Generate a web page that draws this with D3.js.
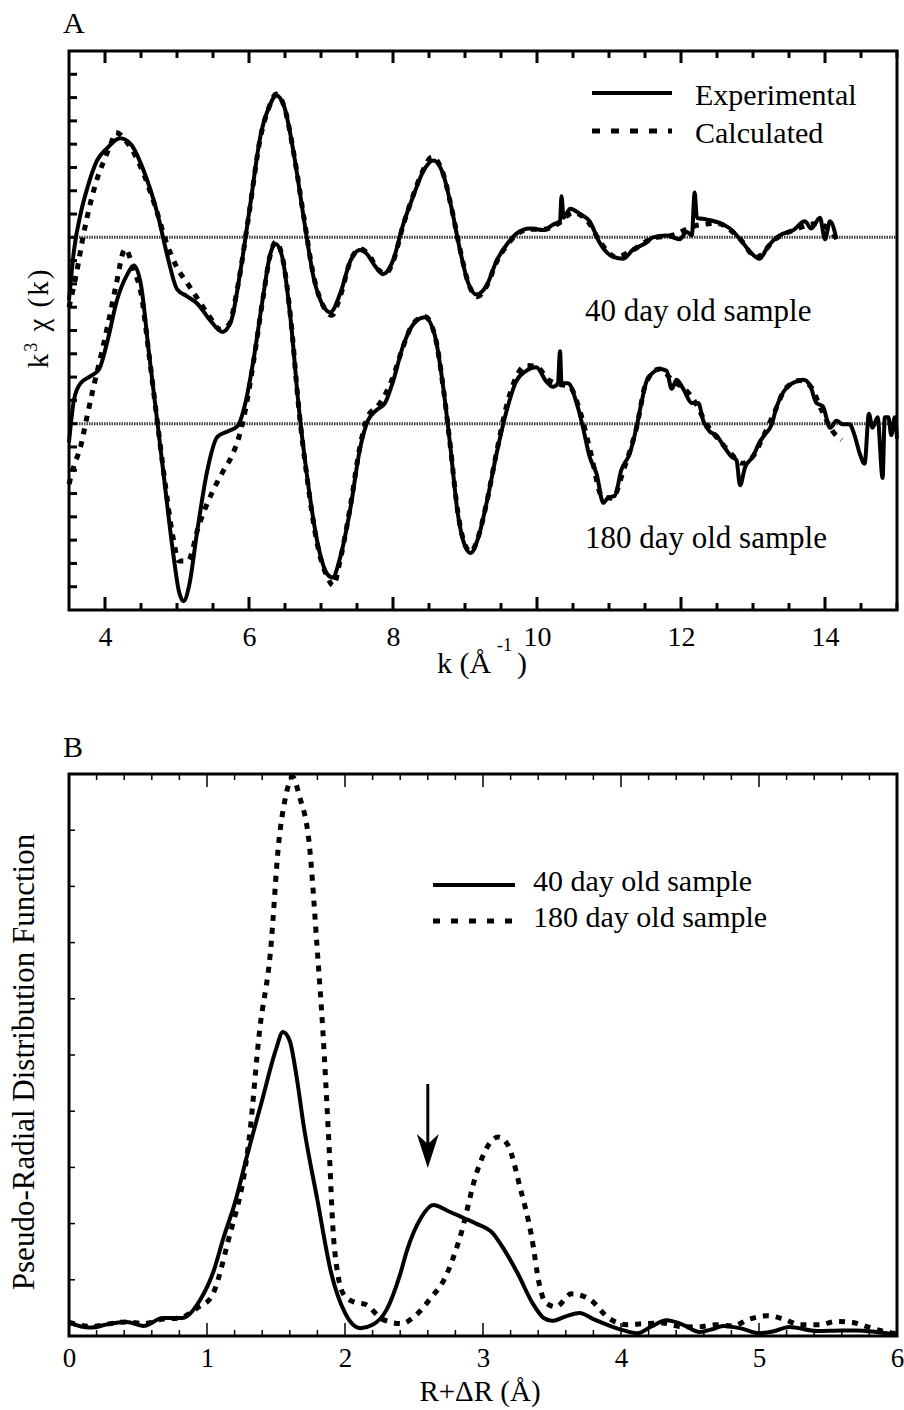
<!DOCTYPE html>
<html>
<head>
<meta charset="utf-8">
<title>EXAFS</title>
<script src="https://d3js.org/d3.v7.min.js"></script>
<style>
  body { margin: 0; background: #fff; }
  text { font-family: "Liberation Serif", "Times New Roman", serif; fill: #000; }
</style>
</head>
<body>
<script>

// ---- panel A : k3 chi(k), [k, value] relative to each trace's zero line
var upperExp = [[3.5,-2.7],[3.57,-0.54],[3.66,1.0],[3.75,2.07],[3.89,3.3],[4.03,3.83],[4.21,4.25],[4.36,3.99],[4.54,2.84],[4.73,1.0],[4.87,-0.84],[5.0,-2.22],[5.14,-2.53],[5.28,-2.84],[5.47,-3.6],[5.63,-4.06],[5.75,-3.6],[5.88,-1.46],[6.02,1.46],[6.16,4.37],[6.28,5.6],[6.38,6.09],[6.49,5.6],[6.63,3.45],[6.76,0.84],[6.9,-1.76],[7.04,-2.99],[7.13,-3.22],[7.27,-2.38],[7.41,-1.0],[7.54,-0.54],[7.63,-0.69],[7.75,-1.23],[7.86,-1.58],[8.0,-1.0],[8.14,0.54],[8.28,1.76],[8.42,2.84],[8.56,3.3],[8.7,2.68],[8.81,1.3],[8.93,-0.54],[9.04,-1.92],[9.16,-2.45],[9.3,-2.07],[9.44,-1.0],[9.58,-0.31],[9.71,0.15],[9.9,0.38],[10.09,0.31],[10.22,0.54],[10.32,0.69],[10.34,1.76],[10.37,0.84],[10.46,1.23],[10.6,1.0],[10.73,0.69],[10.87,-0.23],[11.06,-0.84],[11.2,-0.92],[11.33,-0.54],[11.52,-0.23],[11.61,0.0],[11.8,0.08],[11.98,-0.08],[12.08,0.23],[12.15,0.08],[12.19,1.92],[12.22,0.84],[12.35,0.77],[12.54,0.61],[12.68,0.38],[12.82,-0.08],[12.98,-0.69],[13.09,-0.92],[13.21,-0.38],[13.37,0.08],[13.56,0.31],[13.72,0.69],[13.81,0.38],[13.93,0.84],[14.0,-0.08],[14.07,0.69],[14.16,-0.08]];

var upperCalc = [[3.5,-3.0],[3.6,-1.6],[3.7,0.1],[3.8,1.5],[3.9,2.6],[4.0,3.4],[4.08,4.0],[4.15,4.5],[4.3,4.1],[4.5,3.0],[4.7,1.3],[4.85,-0.2],[5.0,-1.3],[5.15,-2.0],[5.3,-2.7],[5.45,-3.4],[5.6,-3.95],[5.72,-3.75],[5.85,-2.0],[6.0,1.0],[6.16,4.3],[6.28,5.6],[6.38,6.15],[6.49,5.6],[6.63,3.45],[6.76,0.9],[6.9,-1.7],[7.04,-3.0],[7.15,-3.35],[7.27,-2.5],[7.41,-1.0],[7.55,-0.5],[7.65,-0.7],[7.8,-1.4],[7.9,-1.55],[8.0,-1.05],[8.14,0.5],[8.28,1.8],[8.42,2.9],[8.54,3.45],[8.7,2.7],[8.81,1.3],[8.93,-0.5],[9.04,-1.9],[9.17,-2.55],[9.3,-2.1],[9.44,-1.05],[9.58,-0.35],[9.71,0.1],[9.9,0.35],[10.1,0.35],[10.3,0.6],[10.5,1.05],[10.7,0.7],[10.9,-0.3],[11.1,-0.85],[11.3,-0.6],[11.6,-0.05],[11.9,0.1],[12.2,0.5],[12.5,0.6],[12.8,0.0],[13.05,-0.85],[13.3,-0.1],[13.6,0.35],[13.9,0.6],[14.16,-0.05]];

var lowerExp = [[3.5,-0.8],[3.57,1.04],[3.66,1.73],[3.8,2.04],[3.92,2.35],[4.03,3.5],[4.17,5.34],[4.31,6.41],[4.4,6.79],[4.5,5.95],[4.61,3.04],[4.73,0],[4.82,-2.33],[4.94,-5.4],[5.03,-7.24],[5.09,-7.62],[5.17,-6.93],[5.28,-4.63],[5.42,-2.02],[5.56,-0.57],[5.7,-0.34],[5.84,-0.11],[5.95,0.89],[6.07,2.88],[6.19,5.34],[6.3,7.33],[6.37,7.71],[6.46,7.18],[6.58,4.42],[6.69,0.74],[6.81,-2.33],[6.95,-5.09],[7.09,-6.47],[7.16,-6.6],[7.27,-5.7],[7.41,-3.6],[7.54,-1.1],[7.65,0.12],[7.77,0.58],[7.89,0.89],[8.0,1.81],[8.14,3.34],[8.28,4.26],[8.44,4.57],[8.58,3.8],[8.7,1.5],[8.79,-0.8],[8.9,-3.87],[9.0,-5.25],[9.08,-5.55],[9.18,-4.94],[9.3,-3.4],[9.44,-1.26],[9.58,0.58],[9.71,1.81],[9.85,2.27],[9.99,2.42],[10.13,1.81],[10.22,1.58],[10.29,1.73],[10.32,3.11],[10.34,1.73],[10.43,1.73],[10.55,0.89],[10.64,-0.18],[10.73,-1.41],[10.83,-2.18],[10.92,-3.4],[10.99,-3.17],[11.08,-3.1],[11.17,-2.0],[11.29,-1.26],[11.38,-0.18],[11.45,0.89],[11.52,1.81],[11.61,2.19],[11.71,2.35],[11.8,2.27],[11.87,1.5],[11.94,1.89],[12.03,1.5],[12.15,0.89],[12.24,0.89],[12.31,0.12],[12.4,-0.34],[12.49,-0.49],[12.59,-0.95],[12.7,-1.41],[12.77,-1.56],[12.82,-2.64],[12.89,-1.87],[13.0,-1.41],[13.09,-0.8],[13.16,-0.49],[13.26,-0.03],[13.33,0.74],[13.42,1.35],[13.51,1.66],[13.6,1.81],[13.7,1.89],[13.79,1.66],[13.88,0.89],[13.97,0.74],[14.07,-0.18],[14.16,0.12],[14.25,-0.03],[14.34,-0.03],[14.41,-0.49],[14.48,-1.26],[14.55,-1.72],[14.61,0.43],[14.66,-0.18],[14.73,0.28],[14.8,-2.33],[14.83,0.28],[14.88,0.28],[14.92,-0.49],[14.97,0.28],[15.0,-0.64]];

var lowerCalc = [[3.5,-2.6],[3.57,-1.8],[3.66,-1.0],[3.75,0.3],[3.85,1.7],[3.95,3.0],[4.05,4.4],[4.15,5.9],[4.28,7.5],[4.4,6.6],[4.5,5.6],[4.61,3.0],[4.73,0],[4.82,-2.2],[4.94,-4.8],[5.03,-5.9],[5.15,-5.9],[5.3,-4.4],[5.49,-2.94],[5.63,-2.1],[5.77,-1.33],[5.86,-0.57],[5.95,0.6],[6.07,2.8],[6.19,5.3],[6.3,7.3],[6.37,7.8],[6.46,7.2],[6.58,4.5],[6.69,0.7],[6.81,-2.4],[6.95,-5.2],[7.09,-6.6],[7.17,-6.95],[7.27,-5.8],[7.41,-3.5],[7.54,-1.0],[7.65,0.3],[7.8,0.8],[7.9,1.3],[8.0,2.0],[8.14,3.3],[8.28,4.3],[8.44,4.6],[8.58,3.8],[8.7,1.5],[8.79,-0.8],[8.9,-3.8],[9.0,-5.2],[9.08,-5.5],[9.18,-4.9],[9.3,-3.4],[9.44,-1.2],[9.58,0.8],[9.71,2.0],[9.85,2.5],[10.0,2.45],[10.15,1.9],[10.3,1.7],[10.45,1.6],[10.6,0.5],[10.75,-1.3],[10.9,-3.1],[11.05,-3.2],[11.2,-2.0],[11.38,-0.2],[11.52,1.8],[11.7,2.35],[11.9,1.8],[12.05,1.5],[12.2,0.9],[12.35,0.0],[12.5,-0.6],[12.7,-1.3],[12.85,-1.7],[13.0,-1.4],[13.15,-0.5],[13.3,0.5],[13.45,1.5],[13.65,1.85],[13.8,1.6],[13.95,0.6],[14.1,-0.3],[14.23,-0.7]];

var offsetsA = { upper: 4, lower: -4 };
var kTicksMajor = [4, 6, 8, 10, 12, 14];

// ---- panel B : pseudo radial distribution function, [R, value]
var rdf40 = [[0,0.24],[0.15,0.15],[0.3,0.22],[0.42,0.25],[0.54,0.18],[0.68,0.32],[0.82,0.32],[0.95,0.64],[1.05,1.17],[1.12,1.75],[1.2,2.35],[1.3,3.3],[1.4,4.2],[1.5,5.1],[1.55,5.41],[1.6,5.25],[1.65,4.6],[1.7,3.75],[1.8,2.42],[1.9,1.12],[2.0,0.41],[2.11,0.14],[2.2,0.2],[2.3,0.46],[2.4,1.1],[2.45,1.53],[2.55,2.1],[2.64,2.33],[2.75,2.22],[2.86,2.1],[2.95,2.0],[3.07,1.83],[3.15,1.55],[3.25,1.12],[3.36,0.58],[3.44,0.32],[3.5,0.27],[3.6,0.35],[3.7,0.41],[3.8,0.3],[3.92,0.18],[4.02,0.1],[4.12,0.05],[4.22,0.17],[4.33,0.28],[4.45,0.2],[4.57,0.07],[4.66,0.12],[4.74,0.18],[4.86,0.14],[5.0,0.05],[5.1,0.08],[5.22,0.16],[5.42,0.09],[5.6,0.1],[5.71,0.1],[5.85,0.07],[6.0,0.02]];

var rdf180 = [[0,0.24],[0.17,0.17],[0.3,0.22],[0.42,0.25],[0.54,0.22],[0.68,0.3],[0.8,0.32],[0.93,0.5],[1.03,0.69],[1.15,1.66],[1.31,3.6],[1.38,5.41],[1.46,6.84],[1.52,8.78],[1.57,9.6],[1.62,9.95],[1.67,9.6],[1.74,8.78],[1.8,6.84],[1.84,5.41],[1.88,3.6],[1.92,1.66],[1.99,0.74],[2.07,0.6],[2.15,0.56],[2.27,0.3],[2.41,0.22],[2.5,0.34],[2.62,0.67],[2.72,1.01],[2.83,1.73],[2.96,2.95],[3.04,3.4],[3.11,3.54],[3.18,3.4],[3.27,2.63],[3.35,1.8],[3.41,0.9],[3.45,0.6],[3.53,0.52],[3.64,0.75],[3.78,0.64],[3.91,0.32],[4.04,0.2],[4.16,0.22],[4.3,0.23],[4.43,0.17],[4.55,0.16],[4.69,0.2],[4.81,0.18],[4.93,0.3],[5.06,0.36],[5.18,0.3],[5.3,0.2],[5.44,0.2],[5.56,0.26],[5.68,0.24],[5.83,0.13],[5.95,0.06],[6.0,0.04]];

var rTicksMajor = [0, 1, 2, 3, 4, 5, 6];
var arrowR = 2.6;

var W = 904, H = 1410;
var svg = d3.select("body").append("svg")
	.attr("width", W)
	.attr("height", H);

var solidW = 4, dotW = 5, dotDash = "6,7";

// ================= panel A =================
var xA = d3.scaleLinear().domain([3.5, 15]).range([69, 897]);
var yA = d3.scaleLinear().domain([-12, 12]).range([610, 51]);

var gA = svg.append("g");

// zero lines
[offsetsA.upper, offsetsA.lower].forEach(function(o){
	gA.append("line")
		.attr("x1", xA(3.5)).attr("x2", xA(15))
		.attr("y1", yA(o)).attr("y2", yA(o))
		.attr("stroke", "#444")
		.attr("stroke-width", 3)
		.attr("stroke-dasharray", "1.5,1");
});

function lineA(off){
	return d3.line()
		.x(function(d){ return xA(d[0]); })
		.y(function(d){ return yA(d[1] + off); })
		.curve(d3.curveMonotoneX);
}

gA.append("path").attr("d", lineA(offsetsA.upper)(upperCalc))
	.attr("fill", "none").attr("stroke", "#000").attr("stroke-width", dotW).attr("stroke-dasharray", dotDash);
gA.append("path").attr("d", lineA(offsetsA.lower)(lowerCalc))
	.attr("fill", "none").attr("stroke", "#000").attr("stroke-width", dotW).attr("stroke-dasharray", dotDash);
gA.append("path").attr("d", lineA(offsetsA.upper)(upperExp))
	.attr("fill", "none").attr("stroke", "#000").attr("stroke-width", solidW).attr("stroke-linejoin", "round");
gA.append("path").attr("d", lineA(offsetsA.lower)(lowerExp))
	.attr("fill", "none").attr("stroke", "#000").attr("stroke-width", solidW).attr("stroke-linejoin", "round");

// ticks (inward)
var kMinor = d3.range(4, 15.01, 0.5).filter(function(v){ return kTicksMajor.indexOf(v) < 0; });
function ticksX(g, scale, vals, y, len, dir, w){
	g.selectAll(null).data(vals).enter().append("line")
		.attr("x1", function(d){ return scale(d); }).attr("x2", function(d){ return scale(d); })
		.attr("y1", y).attr("y2", y + dir * len)
		.attr("stroke", "#000").attr("stroke-width", w);
}
ticksX(gA, xA, kTicksMajor, 610, 13, -1, 3);
ticksX(gA, xA, kMinor, 610, 7, -1, 3);
ticksX(gA, xA, kTicksMajor, 51, 12, 1, 3);
ticksX(gA, xA, kMinor, 51, 7, 1, 3);

gA.selectAll(null).data(d3.range(-11, 12)).enter().append("line")
	.attr("x1", 69).attr("x2", 77)
	.attr("y1", function(d){ return yA(d); }).attr("y2", function(d){ return yA(d); })
	.attr("stroke", "#000").attr("stroke-width", 3);

gA.append("rect")
	.attr("x", 69).attr("y", 51).attr("width", 828).attr("height", 559)
	.attr("fill", "none").attr("stroke", "#000").attr("stroke-width", 3);

// tick labels
gA.append("g")
	.attr("transform", "translate(0,610)")
	.call(d3.axisBottom(xA).tickValues(kTicksMajor).tickSize(0).tickPadding(16).tickFormat(d3.format("d")))
	.call(function(g){ g.select(".domain").remove(); })
	.selectAll("text")
	.style("font-family", "'Liberation Serif', serif")
	.style("font-size", "28px")
	.attr("fill", "#000");

// axis titles
var xtA = gA.append("text").attr("x", 437).attr("y", 673).style("font-size", "30px");
xtA.append("tspan").text("k (Å");
xtA.append("tspan").attr("x", 497).attr("y", 651).style("font-size", "18px").text("-1");
xtA.append("tspan").attr("x", 517).attr("y", 673).text(")");

var ytA = gA.append("text")
	.attr("transform", "translate(48,318) rotate(-90)")
	.attr("text-anchor", "middle")
	.style("font-size", "29px")
	.style("letter-spacing", "2px");
ytA.append("tspan").text("k");
ytA.append("tspan").attr("dy", -11).style("font-size", "18px").text("3");
ytA.append("tspan").attr("dy", 11).text(" χ (k)");

gA.append("text").attr("x", 63).attr("y", 33).style("font-size", "30px").text("A");

// legend A
gA.append("line").attr("x1", 592).attr("x2", 672).attr("y1", 93).attr("y2", 93)
	.attr("stroke", "#000").attr("stroke-width", solidW);
gA.append("line").attr("x1", 592).attr("x2", 672).attr("y1", 131).attr("y2", 131)
	.attr("stroke", "#000").attr("stroke-width", dotW).attr("stroke-dasharray", "8,11");
gA.append("text").attr("x", 695).attr("y", 105).style("font-size", "30px").text("Experimental");
gA.append("text").attr("x", 695).attr("y", 143).style("font-size", "30px").text("Calculated");

gA.append("text").attr("x", 585).attr("y", 321).style("font-size", "31px").text("40 day old sample");
gA.append("text").attr("x", 585).attr("y", 548).style("font-size", "31px").text("180 day old sample");

// ================= panel B =================
var xB = d3.scaleLinear().domain([0, 6]).range([69, 897]);
var yB = d3.scaleLinear().domain([0, 10]).range([1336, 774]);

var gB = svg.append("g");

var lineB = d3.line()
	.x(function(d){ return xB(d[0]); })
	.y(function(d){ return yB(d[1]); })
	.curve(d3.curveMonotoneX);

gB.append("path").attr("d", lineB(rdf180))
	.attr("fill", "none").attr("stroke", "#000").attr("stroke-width", dotW).attr("stroke-dasharray", dotDash);
gB.append("path").attr("d", lineB(rdf40))
	.attr("fill", "none").attr("stroke", "#000").attr("stroke-width", solidW).attr("stroke-linejoin", "round");

var rMinor = d3.range(0.2, 6, 0.2).map(function(v){ return +v.toFixed(1); })
	.filter(function(v){ return rTicksMajor.indexOf(v) < 0; });
ticksX(gB, xB, rTicksMajor, 1336, 13, -1, 1.5);
ticksX(gB, xB, rMinor, 1336, 6, -1, 1.5);
ticksX(gB, xB, rTicksMajor, 774, 13, 1, 1.5);
ticksX(gB, xB, rMinor, 774, 6, 1, 1.5);

gB.selectAll(null).data(d3.range(1, 10)).enter().append("line")
	.attr("x1", 69).attr("x2", 75)
	.attr("y1", function(d){ return yB(d); }).attr("y2", function(d){ return yB(d); })
	.attr("stroke", "#000").attr("stroke-width", 1.5);

gB.append("rect")
	.attr("x", 69).attr("y", 774).attr("width", 828).attr("height", 562)
	.attr("fill", "none").attr("stroke", "#000").attr("stroke-width", 3);

gB.append("g")
	.attr("transform", "translate(0,1336)")
	.call(d3.axisBottom(xB).tickValues(rTicksMajor).tickSize(0).tickPadding(12).tickFormat(d3.format("d")))
	.call(function(g){ g.select(".domain").remove(); })
	.selectAll("text")
	.style("font-family", "'Liberation Serif', serif")
	.style("font-size", "27px")
	.attr("fill", "#000");

gB.append("text").attr("x", 480).attr("y", 1401).attr("text-anchor", "middle")
	.style("font-size", "29px").text("R+ΔR (Å)");

gB.append("text")
	.attr("transform", "translate(34,1062) rotate(-90)")
	.attr("text-anchor", "middle")
	.style("font-size", "31px")
	.text("Pseudo-Radial Distribution Function");

gB.append("text").attr("x", 63).attr("y", 757).style("font-size", "30px").text("B");

// arrow
var ax = xB(arrowR);
gB.append("line").attr("x1", ax).attr("x2", ax).attr("y1", 1084).attr("y2", 1145)
	.attr("stroke", "#000").attr("stroke-width", 3);
gB.append("path")
	.attr("d", "M" + (ax - 11) + ",1134 L" + ax + ",1168 L" + (ax + 11) + ",1134 L" + ax + ",1144 Z")
	.attr("fill", "#000");

// legend B
gB.append("line").attr("x1", 433).attr("x2", 515).attr("y1", 885).attr("y2", 885)
	.attr("stroke", "#000").attr("stroke-width", solidW);
gB.append("line").attr("x1", 433).attr("x2", 515).attr("y1", 921).attr("y2", 921)
	.attr("stroke", "#000").attr("stroke-width", dotW).attr("stroke-dasharray", "7,11");
gB.append("text").attr("x", 533).attr("y", 891).style("font-size", "30px").text("40 day old sample");
gB.append("text").attr("x", 533).attr("y", 927).style("font-size", "30px").text("180 day old sample");

</script>
</body>
</html>
